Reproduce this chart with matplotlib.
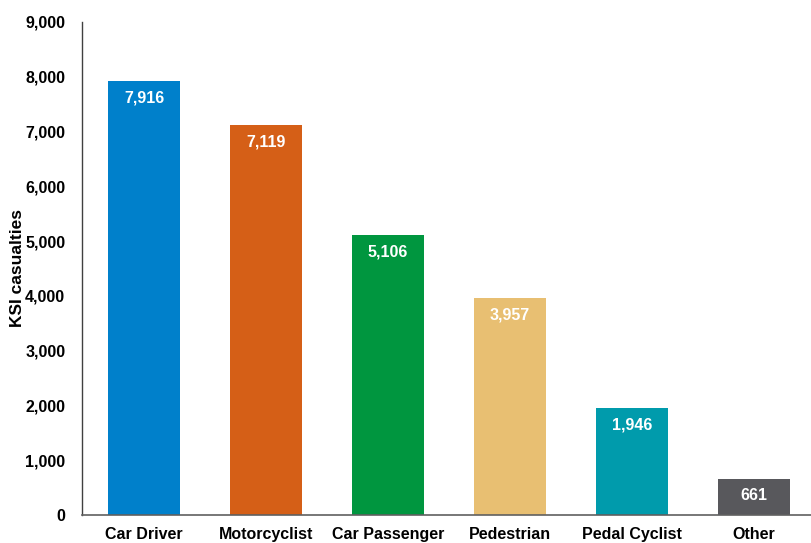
import matplotlib
matplotlib.use("Agg")
from matplotlib import pyplot as plt
from matplotlib.ticker import FuncFormatter

# data
categories = ["Car Driver", "Motorcyclist", "Car Passenger", "Pedestrian", "Pedal Cyclist", "Other"]
ksi = [7916, 7119, 5106, 3957, 1946, 661]
colours = ["#0080CB", "#D55F17", "#00963F", "#E8BF72", "#009BAC", "#58585C"]

plt.rcParams['font.family'] = ['Liberation Sans', 'DejaVu Sans']
plt.rcParams['font.weight'] = 'bold'

fig = plt.figure(figsize=(8.11, 5.43), dpi=100)
ax = fig.add_axes([0.101, 0.0516, 0.899, 0.908])

x = range(len(categories))
bars = ax.bar(x, ksi, width=0.59, color=colours)

for b, v in zip(bars, ksi):
    ax.annotate(f"{v:,}", (b.get_x() + b.get_width() / 2, v),
                xytext=(0, -12), textcoords="offset points",
                ha="center", va="center", color="white",
                fontsize=11.5, fontweight="bold")

ax.set_xlim(-0.51, 5.47)
ax.set_ylim(0, 9000)
ax.set_yticks(range(0, 9001, 1000))
ax.yaxis.set_major_formatter(FuncFormatter(lambda v, p: f"{int(v):,}"))
ax.set_xticks(list(x))
ax.set_xticklabels(categories)
ax.tick_params(length=0, labelsize=11.5, pad=8.5)
ax.tick_params(axis='y', pad=12)
for lab in ax.get_xticklabels() + ax.get_yticklabels():
    lab.set_fontweight("bold")

ax.set_ylabel("KSI casualties", fontsize=12.5, fontweight="bold", labelpad=0)

ax.spines['top'].set_visible(False)
ax.spines['right'].set_visible(False)
ax.spines['left'].set_color("#404040")
ax.spines['bottom'].set_color("#606060")
ax.spines['left'].set_linewidth(1.0)
ax.spines['bottom'].set_linewidth(1.2)

fig.savefig("out.png", dpi=100)
